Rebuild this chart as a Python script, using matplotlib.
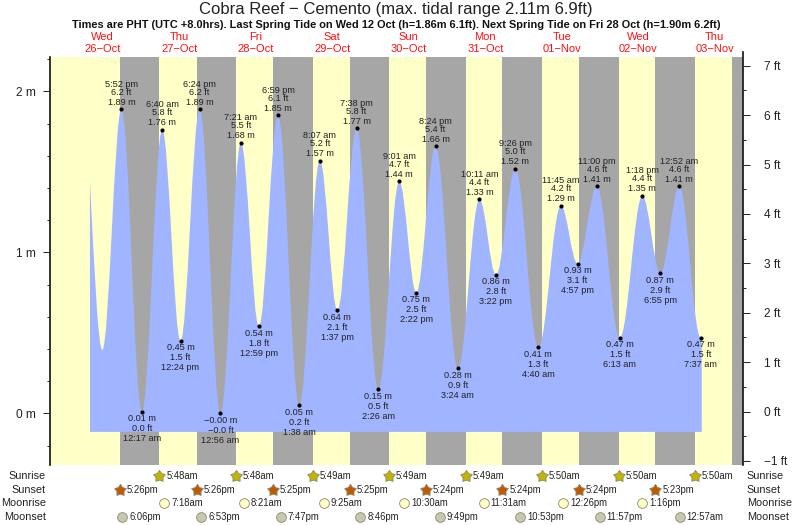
import matplotlib
matplotlib.use("Agg")
import matplotlib.pyplot as plt
from matplotlib.path import Path
from matplotlib.patches import PathPatch
from matplotlib.ticker import MultipleLocator, FuncFormatter

plt.rcParams['font.family'] = ['Liberation Sans', 'DejaVu Sans']

W, H = 793, 525

title = "Cobra Reef \u2212 Cemento (max. tidal range 2.11m 6.9ft)"
subtitle = ("Times are PHT (UTC +8.0hrs). Last Spring Tide on Wed 12 Oct (h=1.86m 6.1ft). "
            "Next Spring Tide on Fri 28 Oct (h=1.90m 6.2ft)")

day_names = ["Wed", "Thu", "Fri", "Sat", "Sun", "Mon", "Tue", "Wed", "Thu"]
day_dates = ["26\u2212Oct", "27\u2212Oct", "28\u2212Oct", "29\u2212Oct", "30\u2212Oct",
             "31\u2212Oct", "01\u2212Nov", "02\u2212Nov", "03\u2212Nov"]

# labelled high and low tides, day number counted from 26 Oct
tide_day = [0, 1, 1, 1, 1, 2, 2, 2, 2, 3, 3, 3, 3, 4, 4, 4, 4, 5, 5, 5, 5, 6, 6, 6, 6, 7, 7, 7, 8, 8]
tide_time = ["5:52 pm", "12:17 am", "6:40 am", "12:24 pm", "6:24 pm", "12:56 am", "7:21 am", "12:59 pm",
             "6:59 pm", "1:38 am", "8:07 am", "1:37 pm", "7:38 pm", "2:26 am", "9:01 am", "2:22 pm",
             "8:24 pm", "3:24 am", "10:11 am", "3:22 pm", "9:26 pm", "4:40 am", "11:45 am", "4:57 pm",
             "11:00 pm", "6:13 am", "1:18 pm", "6:55 pm", "12:52 am", "7:37 am"]
tide_m = [1.89, 0.01, 1.76, 0.45, 1.89, -0.0, 1.68, 0.54, 1.85, 0.05, 1.57, 0.64, 1.77, 0.15, 1.44,
          0.75, 1.66, 0.28, 1.33, 0.86, 1.52, 0.41, 1.29, 0.93, 1.41, 0.47, 1.35, 0.87, 1.41, 0.47]
tide_ft = [6.2, 0.0, 5.8, 1.5, 6.2, -0.0, 5.5, 1.8, 6.1, 0.2, 5.2, 2.1, 5.8, 0.5, 4.7,
           2.5, 5.4, 0.9, 4.4, 2.8, 5.0, 1.3, 4.2, 3.1, 4.6, 1.5, 4.4, 2.9, 4.6, 1.5]

# the curve starts part way down a falling tide, before the first labelled high
start_days = 0.333
start_m = 1.44
first_low_days = 0.494
first_low_m = 0.395
base_m = -0.115

sunrise_day = [1, 2, 3, 4, 5, 6, 7, 8]
sunrise = ["5:48am", "5:48am", "5:49am", "5:49am", "5:49am", "5:50am", "5:50am", "5:50am"]
sunset_day = [0, 1, 2, 3, 4, 5, 6, 7]
sunset = ["5:26pm", "5:26pm", "5:25pm", "5:25pm", "5:24pm", "5:24pm", "5:24pm", "5:23pm"]
moonrise_day = [1, 2, 3, 4, 5, 6, 7]
moonrise = ["7:18am", "8:21am", "9:25am", "10:30am", "11:31am", "12:26pm", "1:16pm"]
moonset_day = [0, 1, 2, 3, 4, 5, 6, 8]
moonset = ["6:06pm", "6:53pm", "7:47pm", "8:46pm", "9:49pm", "10:53pm", "11:57pm", "12:57am"]
# last sunset has no marker, it only closes the last daylight band
last_sunset_days = 8.724


def to_days(day, label):
    """day number + clock text -> days since 26 Oct 00:00"""
    label = label.replace(" ", "")
    hh, mm = label[:-2].split(":")
    hh = int(hh) % 12
    if label.endswith("pm"):
        hh += 12
    return day + (hh + int(mm) / 60.0) / 24.0


def minus(s):
    return s.replace("-", "\u2212")


YELLOW = "#FFFFC8"
GREY = "#A6A6A6"
BLUE = "#A0B4FF"
DARK = "#222222"

fig = plt.figure(figsize=(W / 100, H / 100), dpi=100)
ax = fig.add_axes([50 / W, (H - 465) / H, 693 / W, 408 / H])
ax.set_xlim(-0.1895, 8.869)
ax.set_ylim(-0.3205, 2.213)
ax.set_facecolor(YELLOW)

# night bands
sunset_days = [to_days(d, t) for d, t in zip(sunset_day, sunset)]
sunrise_days = [to_days(d, t) for d, t in zip(sunrise_day, sunrise)]
for a, b in zip(sunset_days, sunrise_days):
    ax.axvspan(a, b, facecolor=GREY, edgecolor="none", zorder=1)
ax.axvspan(last_sunset_days, ax.get_xlim()[1], facecolor=GREY, edgecolor="none", zorder=1)

# tide curve, smooth bezier between the read highs and lows
tide_days = [to_days(d, t) for d, t in zip(tide_day, tide_time)]
verts = [(start_days, base_m), (start_days, start_m),
         (0.39, 0.90), (0.44, first_low_m), (first_low_days, first_low_m)]
codes = [Path.MOVETO, Path.LINETO, Path.CURVE4, Path.CURVE4, Path.CURVE4]
px, pm = first_low_days, first_low_m
for t, h in zip(tide_days, tide_m):
    dt = (t - px) * 0.3642
    verts += [(px + dt, pm), (t - dt, h), (t, h)]
    codes += [Path.CURVE4, Path.CURVE4, Path.CURVE4]
    px, pm = t, h
verts += [(px + 0.012, pm), (px + 0.012, base_m), (start_days, base_m)]
codes += [Path.LINETO, Path.LINETO, Path.CLOSEPOLY]
ax.add_patch(PathPatch(Path(verts, codes), facecolor=BLUE, edgecolor="none", zorder=2))

# dots and their three text lines
ax.plot(tide_days, tide_m, "o", color="black", ms=3, mew=0, zorder=3)
prev = first_low_m
for t, m, ft, clock in zip(tide_days, tide_m, tide_ft, tide_time):
    high = m > prev
    prev = m
    lines = [f"{m:.2f} m", f"{ft:.1f} ft", clock]
    offs = [-7, -17, -25] if high else [7, 17, 27]
    for txt, off in zip(lines, offs):
        ax.annotate(minus(txt), (t, m), xytext=(0, -off * 0.72), textcoords="offset points",
                    ha="center", va="center", fontsize=6.6, color=DARK, zorder=4,
                    annotation_clip=False)

# left axis in metres
for s in ["top", "bottom", "right"]:
    ax.spines[s].set_visible(False)
ax.spines["left"].set_linewidth(1.2)
ax.spines["left"].set_color("#111111")
ax.set_xticks([])
ax.yaxis.set_major_locator(MultipleLocator(1))
ax.yaxis.set_minor_locator(MultipleLocator(0.2))
ax.yaxis.set_major_formatter(FuncFormatter(lambda v, p: f"{v:.0f} m"))
ax.tick_params(axis="y", which="major", length=5, width=0.7, color=DARK, labelsize=8.6,
               labelcolor=DARK, pad=5.5)
ax.tick_params(axis="y", which="minor", length=2.2, width=0.7, color=DARK)

# right axis in feet
ax2 = ax.twinx()
ax2.set_ylim(-1.081, 7.178)
for s in ["top", "bottom", "left"]:
    ax2.spines[s].set_visible(False)
ax2.spines["right"].set_linewidth(1.2)
ax2.spines["right"].set_color("#111111")
ax2.spines["right"].set_bounds(-1.081, 7.28)
ax2.yaxis.set_major_locator(MultipleLocator(1))
ax2.yaxis.set_minor_locator(MultipleLocator(0.5))
ax2.yaxis.set_major_formatter(FuncFormatter(lambda v, p: minus(f"{v:.0f} ft")))
ax2.tick_params(axis="y", which="major", length=5, width=0.7, color=DARK, labelsize=8.6,
                labelcolor=DARK, pad=10)
ax2.tick_params(axis="y", which="minor", length=2.2, width=0.7, color=DARK)

# day labels over the plot
trans = ax.get_xaxis_transform()
for i, (name, date) in enumerate(zip(day_names, day_dates)):
    ax.text(i + 0.5, (465 - 37.5) / 408, name, transform=trans, ha="center", va="center",
            fontsize=8, color="#FF1010", clip_on=False)
    ax.text(i + 0.5, (465 - 49.5) / 408, date, transform=trans, ha="center", va="center",
            fontsize=8, color="#FF1010", clip_on=False)

fig.text(396 / W, 1 - 9.5 / H, title, ha="center", va="center", fontsize=12, color=DARK)
fig.text(396 / W, 1 - 25 / H, subtitle, ha="center", va="center", fontsize=7.9,
         fontweight="bold", color="#111111")

# sun and moon rows under the plot, y in pixels of the picture
low = fig.add_axes([50 / W, 0, 693 / W, (H - 465) / H])
low.set_xlim(ax.get_xlim())
low.set_ylim(525, 465)
low.axis("off")

star = Path.unit_regular_star(5, innerCircle=0.6)
rows = [
    ("Sunrise", 476, sunrise_day, sunrise, star, "#C2B400", 8.8),
    ("Sunset", 490.3, sunset_day, sunset, star, "#C05A00", 8.8),
    ("Moonrise", 503.3, moonrise_day, moonrise, "o", YELLOW, 7),
    ("Moonset", 517.3, moonset_day, moonset, "o", "#C8C8B0", 7),
]
for name, y, days, clocks, mark, colour, size in rows:
    fig.text(45.7 / W, 1 - y / H, name, ha="right", va="center", fontsize=7.8, color=DARK)
    fig.text(746.7 / W, 1 - y / H, name, ha="left", va="center", fontsize=7.8, color=DARK)
    for d, c in zip(days, clocks):
        t = to_days(d, c)
        low.plot([t], [y], marker=mark, ms=size, mfc=colour, mec="#8A8A70", mew=0.6,
                 ls="none", clip_on=False)
        low.annotate(c, (t, y), xytext=(5, 0), textcoords="offset points", ha="left",
                     va="center", fontsize=6.85, color=DARK, annotation_clip=False)

fig.savefig("out.png", dpi=100)
